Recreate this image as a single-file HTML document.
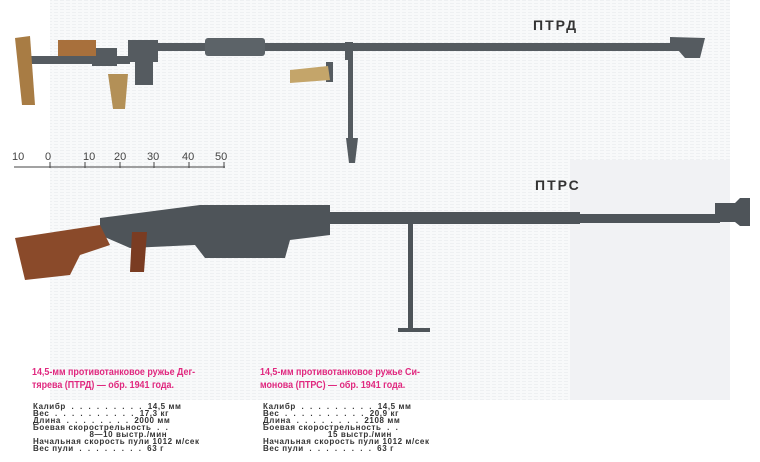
<!DOCTYPE html>
<html><head><meta charset="utf-8"><style>
body{margin:0;width:760px;height:462px;background:#fff;overflow:hidden;font-family:"Liberation Sans",sans-serif;position:relative}
.h{position:absolute;color:#e0287f;font-family:"Liberation Sans",sans-serif;font-weight:bold;font-size:10.5px;line-height:13px;transform:scaleX(0.85);transform-origin:left;white-space:nowrap}
.s{position:absolute;font-size:8px;line-height:7px;font-weight:bold;color:#333;white-space:pre;letter-spacing:0.6px;font-family:"Liberation Sans",sans-serif}
</style></head><body>
<svg width="760" height="462" style="position:absolute;left:0;top:0">
<defs><pattern id="tx" width="6" height="3" patternUnits="userSpaceOnUse"><rect width="6" height="3" fill="#f8f9fa"/><rect width="4" height="1" fill="#eef0f2"/></pattern></defs>
<rect x="50" y="0" width="680" height="400" fill="url(#tx)"/>
<rect x="570" y="160" width="160" height="240" fill="#f1f2f4"/>
<!-- PTRD -->
<g fill="#555b60">
<rect x="130" y="43" width="550" height="8"/>
<rect x="128" y="40" width="30" height="22"/>
<rect x="135" y="60" width="18" height="25"/>
<rect x="205" y="38" width="60" height="18" rx="3" fill="#5c6368"/>
<rect x="30" y="56" width="100" height="8"/>
<rect x="92" y="48" width="25" height="18"/>
<path d="M670 37 L705 38 L700 58 L685 58 L678 50 L670 50Z"/>
<rect x="348" y="60" width="5" height="80"/>
<path d="M346 138 h12 l-3 25 h-6z"/>
<rect x="326" y="62" width="7" height="20"/>
<rect x="345" y="42" width="8" height="18"/>
</g>
<path d="M15 38 L30 36 L35 105 L22 105Z" fill="#a87c44"/>
<rect x="58" y="40" width="38" height="16" fill="#a8703c"/>
<path d="M108 74 h20 l-3 35 h-12z" fill="#b39057"/>
<path d="M290 70 l38 -4 l2 14 l-40 3z" fill="#c4a56a"/>
<text x="533" y="30" font-family="Liberation Sans" font-weight="bold" font-size="14" fill="#333" letter-spacing="2">ПТРД</text>
<!-- scale -->
<g font-family="Liberation Sans" font-size="11" fill="#444">
<text x="12" y="160">10</text><text x="45" y="160">0</text><text x="83" y="160">10</text><text x="114" y="160">20</text><text x="147" y="160">30</text><text x="182" y="160">40</text><text x="215" y="160">50</text>
</g>
<line x1="14" y1="167" x2="225" y2="167" stroke="#444" stroke-width="1"/>
<g stroke="#444"><line x1="50" y1="162" x2="50" y2="168"/><line x1="85" y1="162" x2="85" y2="168"/><line x1="120" y1="162" x2="120" y2="168"/><line x1="154" y1="162" x2="154" y2="168"/><line x1="189" y1="162" x2="189" y2="168"/><line x1="224" y1="162" x2="224" y2="168"/></g>
<text x="535" y="190" font-family="Liberation Sans" font-weight="bold" font-size="14" fill="#333" letter-spacing="2">ПТРС</text>
<!-- PTRS -->
<g fill="#4e5459">
<rect x="320" y="212" width="260" height="12"/>
<rect x="575" y="214" width="145" height="9"/>
<path d="M100 218 L200 205 L330 205 L330 235 L290 240 L285 258 L205 258 L195 245 L130 248 L100 235Z"/>
<path d="M715 203 h20 l5 -5 h10 v28 h-10 l-5 -4 h-20z"/>
<rect x="408" y="215" width="5" height="115"/>
<rect x="398" y="328" width="32" height="4"/>
</g>
<path d="M15 238 L100 225 L110 245 L80 255 L70 275 L25 280Z" fill="#8a4a2a"/>
<path d="M132 232 h15 l-3 40 h-14z" fill="#7a3c22"/>
</svg>
<div class="h" style="left:32px;top:366px">14,5-мм противотанковое ружье Дег-<br>тярева (ПТРД) — обр. 1941 года.</div>
<div class="h" style="left:260px;top:366px">14,5-мм противотанковое ружье Си-<br>монова (ПТРС) — обр. 1941 года.</div>
<div class="s" style="left:33px;top:403px">Калибр  .  .  .  .  .  .  .  .  .  14,5 мм
Вес  .  .  .  .  .  .  .  .  .  .  17,3 кг
Длина  .  .  .  .  .  .  .  .  2000 мм
Боевая скорострельность  .  .
                    8—10 выстр./мин
Начальная скорость пули 1012 м/сек
Вес пули  .  .  .  .  .  .  .  .  63 г</div>
<div class="s" style="left:263px;top:403px">Калибр  .  .  .  .  .  .  .  .  .  14,5 мм
Вес  .  .  .  .  .  .  .  .  .  .  20,9 кг
Длина  .  .  .  .  .  .  .  .  2108 мм
Боевая скорострельность  .  .
                       15 выстр./мин
Начальная скорость пули 1012 м/сек
Вес пули  .  .  .  .  .  .  .  .  63 г</div>
</body></html>
